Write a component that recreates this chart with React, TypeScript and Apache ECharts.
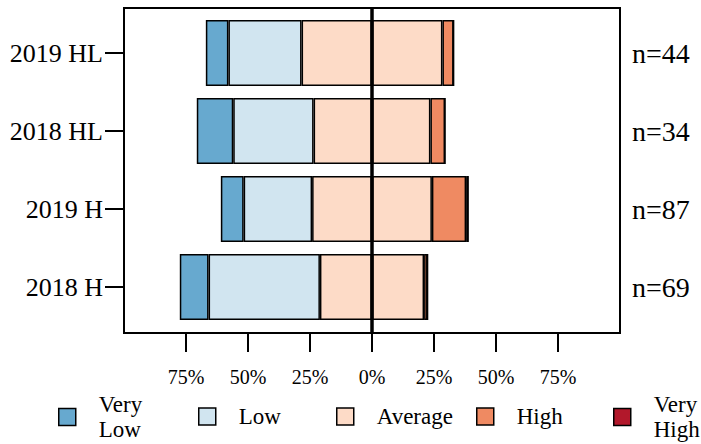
import React, { useEffect, useRef } from "react";
import * as echarts from "echarts";

const categories = ["2018 H", "2019 H", "2018 HL", "2019 HL"];
const nCounts = [69, 87, 34, 44];
const veryLow = [11.6, 9.2, 14.7, 9.1];
const low = [44.9, 27.6, 32.4, 29.5];
const average = [42.0, 48.3, 47.1, 56.8];
const high = [1.4, 13.8, 5.9, 4.5];
const veryHigh = [0, 1.1, 0, 0];
const xTicks = [-75, -50, -25, 0, 25, 50, 75];
const levelNames = ["Very Low", "Low", "Average", "High", "Very High"];
const legendLabels = ["Very\nLow", "Low", "Average", "High", "Very\nHigh"];
const levelColors = ["#67A9CF", "#D1E5F0", "#FDDBC7", "#EF8A62", "#B2182B"];

const FONT = "'Liberation Serif', 'Times New Roman', serif";

export default function App() {
  const ref = useRef<HTMLDivElement>(null);
  useEffect(() => {
    if (!ref.current) return;
    document.body.style.margin = "0";
    const chart = echarts.init(ref.current, null, { renderer: "svg" });
    const border = { borderColor: "#000", borderWidth: 1.5 };
    const barCommon = {
      type: "bar",
      stack: "likert",
      barWidth: 66,
      xAxisIndex: 0,
      yAxisIndex: 0,
      silent: true,
    };
    const legendLefts = [58, 198, 336, 476, 613];
    const legends = levelNames.map((name, i) => ({
      data: [name],
      left: legendLefts[i],
      top: legendLabels[i].includes("\n") ? 392 : 404,
      padding: 0,
      itemWidth: 17,
      itemHeight: 17,
      itemGap: 0,
      icon: "rect",
      selectedMode: false,
      formatter: () => legendLabels[i],
      textStyle: {
        fontFamily: FONT,
        fontSize: 23,
        lineHeight: 25,
        color: "#000",
        padding: [0, 0, 0, 18],
      },
      itemStyle: { borderColor: "#000", borderWidth: 1.5 },
    }));
    chart.setOption({
      animation: false,
      backgroundColor: "#fff",
      textStyle: { fontFamily: FONT },
      legend: legends,
      grid: [
        { left: 124, right: 81, top: 14, height: 312, containLabel: false },
        {
          left: 124,
          right: 81,
          top: 8,
          height: 325,
          show: true,
          borderColor: "#000",
          borderWidth: 2,
          backgroundColor: "transparent",
        },
      ],
      xAxis: [
        {
          type: "value",
          gridIndex: 0,
          min: -100,
          max: 100,
          show: false,
          axisLine: { onZero: false },
        },
        {
          type: "value",
          gridIndex: 1,
          min: -100,
          max: 100,
          interval: 25,
          position: "bottom",
          splitLine: { show: false },
          axisLine: {
            show: true,
            onZero: false,
            lineStyle: { color: "#000", width: 2 },
          },
          axisTick: {
            show: true,
            length: 19,
            customValues: xTicks,
            lineStyle: { color: "#000", width: 2 },
          },
          axisLabel: {
            customValues: xTicks,
            margin: 34,
            fontFamily: FONT,
            fontSize: 20,
            color: "#000",
            formatter: (v: number) => Math.abs(v) + "%",
          },
        },
      ],
      yAxis: [
        {
          type: "category",
          gridIndex: 0,
          data: categories,
          position: "left",
          z: 20,
          axisLine: {
            show: true,
            onZero: false,
            lineStyle: { color: "rgba(0,0,0,0)", width: 1 },
          },
          axisTick: {
            show: true,
            inside: false,
            alignWithLabel: true,
            length: 19,
            lineStyle: { color: "#000", width: 2 },
          },
          axisLabel: {
            margin: 21,
            fontFamily: FONT,
            fontSize: 26,
            color: "#000",
          },
        },
        {
          type: "category",
          gridIndex: 0,
          data: nCounts.map((n) => "n=" + n),
          position: "right",
          axisLine: { show: false, onZero: false },
          axisTick: { show: false },
          axisLabel: {
            margin: 12,
            fontFamily: FONT,
            fontSize: 28,
            color: "#000",
          },
        },
        { type: "value", gridIndex: 1, min: 0, max: 1, show: false },
      ],
      series: [
        {
          ...barCommon,
          name: "Average",
          data: average.map((v) => -v / 2),
          itemStyle: { color: levelColors[2], ...border },
        },
        {
          ...barCommon,
          name: "Low",
          data: low.map((v) => -v),
          itemStyle: { color: levelColors[1], ...border },
        },
        {
          ...barCommon,
          name: "Very Low",
          data: veryLow.map((v) => -v),
          itemStyle: { color: levelColors[0], ...border },
        },
        {
          ...barCommon,
          name: "Average",
          data: average.map((v) => v / 2),
          itemStyle: { color: levelColors[2], ...border },
        },
        {
          ...barCommon,
          name: "High",
          data: high,
          itemStyle: { color: levelColors[3], ...border },
        },
        {
          ...barCommon,
          name: "Very High",
          data: veryHigh,
          itemStyle: { color: levelColors[4], ...border },
        },
        {
          type: "line",
          name: "zero",
          xAxisIndex: 1,
          yAxisIndex: 2,
          data: [],
          z: 10,
          silent: true,
          markLine: {
            silent: true,
            symbol: "none",
            label: { show: false },
            lineStyle: { color: "#000", width: 3.5, type: "solid" },
            data: [{ xAxis: 0 }],
            z: 10,
          },
        },
      ],
    });
    return () => chart.dispose();
  }, []);
  return (
    <div
      ref={ref}
      style={{ position: "absolute", left: 0, top: 0, width: 701, height: 444 }}
    />
  );
}
